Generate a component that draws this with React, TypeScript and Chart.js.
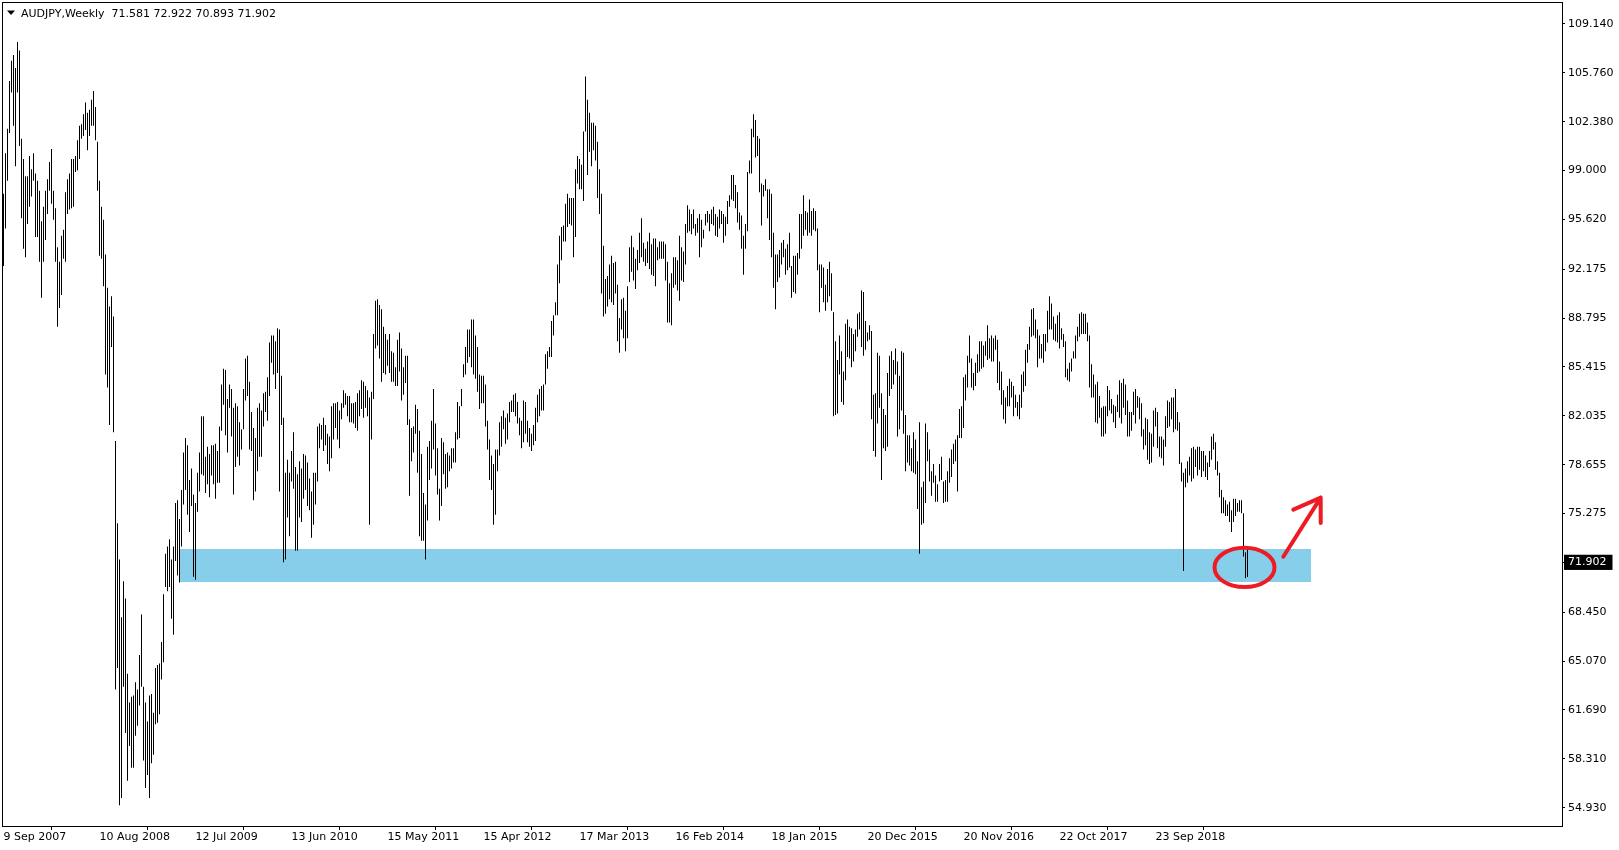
import React, { useEffect, useRef } from "react";
import { Chart, registerables } from "chart.js";

Chart.register(...registerables);

// ---------- data ----------
const SYMBOL_TITLE = "AUDJPY,Weekly";
const LAST_OHLC = [71.581, 72.922, 70.893, 71.902];
const CURRENT_PRICE = 71.902;

// weekly highs, starting with the week of 9 Sep 2007
const HIGH = [
  97.4, 100.2, 101.9, 105.2, 106.6, 107.0, 106.1, 107.9, 107.3, 101.2,
  99.8, 98.6, 98.6, 100.0, 99.1, 100.2, 98.8, 98.3, 97.6, 95.5,
  96.5, 97.6, 98.4, 99.6, 100.5, 97.6, 96.4, 93.7, 92.7, 94.5,
  94.9, 97.5, 98.4, 98.8, 99.8, 99.8, 100.0, 101.1, 102.1, 102.2,
  102.9, 103.7, 103.0, 103.2, 103.9, 104.5, 103.4, 101.0, 98.3, 96.5,
  95.6, 93.2, 90.9, 89.6, 90.3, 88.9, 80.3, 74.6, 72.1, 68.1,
  70.6, 69.4, 64.2, 62.2, 62.6, 62.7, 63.6, 63.1, 65.5, 68.3,
  63.3, 62.2, 60.9, 62.7, 62.8, 61.5, 64.6, 64.8, 64.9, 66.4,
  69.7, 72.5, 73.0, 73.5, 72.1, 73.0, 76.0, 76.2, 74.9, 76.9,
  79.5, 80.5, 80.0, 77.6, 78.4, 76.6, 76.0, 78.1, 79.5, 82.0,
  82.0, 79.2, 79.9, 79.4, 80.0, 80.0, 80.1, 79.6, 81.3, 84.2,
  85.3, 85.2, 83.2, 84.2, 83.9, 82.6, 82.9, 82.7, 81.6, 81.1,
  83.9, 86.0, 86.2, 84.4, 82.3, 81.2, 80.5, 82.6, 82.9, 82.4,
  83.6, 83.7, 84.7, 87.1, 87.6, 87.6, 87.2, 88.1, 88.0, 84.8,
  81.9, 78.1, 79.0, 78.1, 79.6, 80.9, 78.5, 78.0, 78.9, 78.4,
  79.4, 79.3, 78.8, 77.7, 76.8, 78.1, 78.1, 81.3, 81.5, 81.4,
  81.9, 81.4, 80.8, 80.6, 82.7, 82.9, 82.9, 83.0, 82.4, 82.9,
  83.8, 83.6, 83.4, 83.4, 82.9, 82.9, 83.0, 83.6, 83.8, 84.5,
  84.4, 84.1, 83.8, 83.3, 83.7, 87.7, 90.0, 90.1, 89.7, 89.4,
  88.2, 87.7, 87.3, 87.7, 86.5, 86.4, 85.4, 87.3, 87.8, 86.7,
  85.4, 86.2, 86.2, 81.8, 81.2, 81.3, 82.8, 82.5, 81.0, 79.4,
  76.7, 75.9, 79.9, 80.3, 81.7, 83.9, 81.5, 79.8, 77.0, 80.5,
  80.2, 79.4, 79.5, 79.3, 79.8, 79.8, 80.9, 83.0, 82.7, 83.9,
  85.6, 86.8, 88.0, 88.0, 88.7, 88.7, 87.6, 86.8, 84.9, 84.8,
  84.8, 84.2, 81.7, 80.4, 79.3, 78.7, 79.7, 79.7, 81.6, 82.0,
  82.4, 81.9, 82.2, 83.0, 83.1, 83.5, 83.6, 83.0, 81.9, 81.7,
  83.1, 83.0, 81.7, 81.2, 80.8, 81.4, 82.6, 83.5, 83.9, 84.1,
  84.2, 86.3, 86.5, 86.8, 88.6, 89.0, 89.9, 92.5, 94.5, 95.1,
  95.2, 96.7, 97.4, 97.1, 97.1, 97.1, 99.1, 100.0, 99.8, 99.4,
  101.7, 105.5, 103.9, 103.0, 102.3, 102.3, 102.1, 101.0, 99.1, 97.4,
  93.8, 91.5, 91.7, 92.5, 93.1, 92.6, 92.7, 91.1, 88.8, 90.1,
  90.2, 89.3, 91.0, 93.7, 94.5, 93.7, 92.9, 93.5, 94.7, 95.7,
  94.0, 93.6, 94.1, 94.7, 93.9, 94.3, 94.3, 93.7, 94.1, 94.1,
  94.1, 93.9, 92.7, 91.2, 91.9, 93.0, 93.0, 92.8, 94.5, 93.7,
  93.4, 95.3, 96.6, 96.3, 96.0, 96.3, 95.3, 95.7, 96.0, 95.6,
  94.9, 96.0, 96.2, 96.0, 96.3, 96.5, 96.0, 95.8, 96.3, 96.2,
  96.0, 95.8, 96.9, 97.3, 98.7, 98.7, 98.0, 97.5, 96.1, 95.9,
  94.5, 95.3, 98.9, 99.7, 101.9, 102.9, 102.5, 101.4, 101.2, 98.1,
  98.0, 98.4, 97.7, 97.7, 97.4, 94.7, 93.2, 93.2, 93.5, 94.0,
  94.2, 93.6, 93.9, 94.7, 92.4, 93.1, 93.1, 93.3, 96.0, 96.0,
  97.3, 96.2, 96.1, 97.0, 96.2, 96.4, 96.2, 95.0, 92.5, 92.5,
  92.3, 91.1, 92.2, 92.7, 91.9, 89.2, 87.2, 85.9, 87.6, 86.5,
  85.1, 88.4, 88.7, 88.2, 88.1, 87.7, 88.0, 89.1, 89.2, 90.7,
  90.6, 88.6, 87.8, 88.3, 87.9, 83.5, 83.6, 86.4, 86.2, 83.6,
  82.5, 82.1, 85.0, 86.2, 86.5, 85.9, 86.7, 85.8, 84.8, 86.5,
  86.4, 82.1, 80.7, 80.7, 79.8, 80.9, 80.4, 78.9, 81.6, 77.1,
  77.5, 81.5, 80.9, 79.7, 78.2, 78.7, 77.9, 77.3, 78.7, 79.2,
  77.5, 77.6, 78.2, 79.1, 79.7, 80.1, 80.4, 80.7, 82.5, 82.7,
  84.7, 84.9, 86.2, 87.6, 86.0, 85.0, 85.7, 86.3, 87.2, 87.2,
  86.9, 87.2, 88.3, 87.4, 87.6, 87.4, 87.6, 87.3, 85.8, 85.1,
  83.8, 83.3, 84.1, 84.6, 84.4, 84.1, 83.5, 83.0, 83.5, 84.9,
  85.1, 86.6, 87.0, 88.2, 89.4, 89.5, 88.7, 88.0, 87.6, 87.0,
  87.7, 87.7, 89.3, 90.3, 89.8, 88.9, 88.4, 89.0, 89.2, 88.1,
  87.7, 87.2, 85.3, 85.7, 86.0, 86.5, 87.6, 88.2, 89.1, 89.2,
  89.1, 89.1, 88.5, 87.6, 85.6, 84.9, 84.2, 84.4, 83.4, 82.6,
  82.7, 82.7, 84.1, 83.8, 83.2, 82.8, 82.7, 83.5, 84.5, 84.3,
  84.6, 84.2, 83.1, 82.3, 82.3, 83.7, 83.9, 83.4, 83.3, 82.9,
  81.1, 81.9, 81.8, 80.9, 80.8, 82.4, 82.6, 82.3, 80.6, 80.6,
  80.4, 82.0, 83.1, 83.0, 83.3, 83.3, 83.9, 82.3, 81.6, 78.8,
  78.1, 78.4, 78.9, 79.2, 79.8, 79.9, 79.7, 79.9, 79.9, 79.6,
  79.6, 79.3, 78.8, 79.6, 80.6, 80.8, 80.2, 78.9, 78.1, 76.9,
  76.4, 76.2, 75.9, 76.1, 75.5, 76.3, 76.3, 76.0, 76.2, 76.2,
  75.3, 72.6, 72.922,
];

// weekly lows, same weeks
const LOW = [
  92.4, 95.0, 98.3, 101.6, 104.4, 102.1, 99.3, 104.4, 100.7, 95.7,
  93.6, 93.0, 95.3, 96.5, 97.2, 98.3, 94.4, 94.4, 92.7, 90.2,
  92.7, 94.2, 96.0, 97.6, 96.7, 95.6, 92.7, 88.2, 89.5, 90.4,
  92.9, 92.7, 96.0, 96.3, 96.4, 96.5, 98.9, 99.0, 99.8, 101.2,
  101.4, 101.8, 100.4, 101.4, 102.1, 102.1, 101.1, 97.6, 93.1, 92.9,
  91.0, 84.9, 84.0, 81.4, 86.8, 80.9, 63.1, 64.6, 55.1, 55.6,
  63.3, 60.1, 56.8, 59.2, 57.7, 57.7, 59.9, 60.6, 62.0, 63.3,
  58.2, 56.3, 57.2, 55.6, 58.0, 58.6, 60.7, 60.8, 61.4, 63.8,
  65.0, 70.2, 69.9, 70.2, 68.0, 66.9, 72.0, 71.0, 70.5, 73.0,
  75.9, 76.9, 75.2, 74.0, 75.8, 70.9, 70.7, 75.4, 76.8, 78.0,
  77.9, 76.7, 77.3, 76.4, 77.9, 77.3, 76.3, 77.4, 77.4, 81.0,
  82.8, 80.7, 79.5, 82.6, 80.6, 76.6, 78.5, 79.2, 78.6, 79.7,
  81.1, 83.1, 83.4, 79.7, 79.6, 76.2, 76.8, 78.2, 79.2, 79.2,
  81.3, 82.3, 81.7, 83.4, 85.7, 84.9, 83.9, 85.0, 76.8, 81.4,
  71.9, 72.1, 75.0, 73.7, 77.5, 77.0, 72.7, 72.7, 75.0, 74.7,
  76.3, 76.9, 75.8, 75.5, 73.6, 74.5, 75.9, 77.5, 79.8, 80.4,
  79.6, 80.0, 78.7, 78.2, 79.1, 80.4, 81.2, 80.4, 79.8, 81.8,
  82.6, 82.8, 82.0, 81.6, 81.6, 81.5, 81.2, 81.0, 82.0, 82.5,
  81.9, 82.6, 82.0, 74.5, 80.4, 83.2, 86.7, 86.9, 86.0, 84.4,
  85.0, 84.9, 85.5, 85.0, 84.4, 84.4, 84.1, 84.1, 85.1, 83.1,
  83.5, 84.3, 81.4, 76.5, 78.9, 79.5, 80.8, 78.1, 73.7, 73.4,
  73.4, 72.1, 74.8, 77.6, 78.4, 79.7, 77.9, 76.6, 74.8, 75.8,
  78.0, 77.0, 77.1, 78.2, 78.4, 78.8, 78.8, 80.4, 80.5, 82.7,
  84.7, 84.9, 85.7, 86.1, 85.4, 84.9, 84.6, 83.7, 82.5, 82.9,
  82.9, 81.3, 79.7, 77.6, 76.9, 74.5, 75.2, 78.2, 79.3, 79.9,
  81.1, 80.1, 80.4, 81.6, 82.3, 82.3, 82.0, 81.5, 80.7, 79.8,
  80.2, 80.8, 80.2, 79.9, 79.6, 80.0, 80.3, 81.6, 82.0, 82.4,
  82.4, 84.2, 85.3, 86.1, 86.1, 87.6, 89.0, 89.0, 91.2, 92.8,
  94.1, 94.1, 95.1, 95.3, 95.2, 93.0, 94.4, 98.1, 97.7, 97.7,
  96.9, 101.7, 98.7, 100.3, 99.3, 100.4, 99.7, 97.1, 96.0, 90.5,
  88.9, 89.1, 89.6, 90.1, 89.9, 89.7, 90.5, 87.2, 86.4, 88.0,
  87.4, 86.5, 87.4, 91.3, 92.0, 91.4, 90.8, 92.1, 92.6, 93.0,
  92.7, 92.4, 92.6, 92.2, 91.8, 91.7, 91.0, 92.8, 92.9, 92.9,
  92.9, 91.4, 88.5, 88.5, 88.3, 90.9, 91.1, 90.7, 90.0, 91.4,
  91.3, 92.5, 94.7, 94.8, 94.6, 95.0, 94.5, 94.7, 93.0, 93.7,
  94.3, 95.2, 95.4, 94.8, 95.3, 95.2, 94.5, 94.4, 95.0, 95.3,
  94.0, 94.5, 95.3, 96.5, 97.0, 96.9, 96.4, 95.4, 94.9, 93.6,
  91.8, 93.6, 94.8, 98.8, 98.8, 101.3, 99.9, 100.0, 97.5, 95.2,
  97.2, 97.6, 95.7, 94.2, 93.0, 90.9, 89.4, 91.3, 91.6, 92.5,
  93.0, 91.8, 92.1, 92.3, 90.2, 90.6, 90.5, 91.8, 92.9, 93.6,
  94.5, 94.9, 94.5, 94.7, 94.5, 94.9, 94.8, 92.1, 89.2, 90.9,
  89.9, 89.3, 89.9, 90.3, 89.3, 82.0, 82.1, 82.2, 84.9, 83.0,
  82.8, 84.5, 86.1, 86.0, 85.4, 85.8, 86.5, 87.5, 88.0, 86.8,
  86.2, 86.6, 87.2, 87.3, 81.8, 79.6, 79.2, 81.5, 82.6, 77.6,
  79.8, 79.6, 79.9, 83.4, 83.9, 84.2, 84.9, 80.6, 81.1, 82.4,
  80.8, 78.2, 78.8, 78.6, 78.2, 78.1, 78.0, 75.6, 72.5, 74.5,
  74.6, 76.0, 78.9, 77.5, 76.5, 77.4, 76.1, 76.1, 77.5, 77.6,
  76.0, 76.1, 76.1, 77.4, 77.8, 78.7, 78.9, 76.8, 80.5, 80.5,
  81.2, 83.1, 84.0, 85.7, 84.0, 83.8, 84.1, 85.0, 85.1, 85.3,
  85.4, 86.2, 85.9, 86.0, 85.8, 85.8, 86.6, 84.3, 83.8, 82.8,
  81.8, 81.5, 82.7, 82.7, 83.3, 82.0, 82.6, 82.0, 81.8, 82.6,
  83.7, 84.1, 85.7, 86.6, 87.5, 87.6, 87.4, 85.4, 86.0, 86.0,
  85.7, 86.5, 87.1, 88.0, 88.0, 87.3, 87.2, 87.1, 86.7, 87.3,
  86.8, 84.7, 84.5, 84.4, 85.1, 86.0, 86.0, 87.2, 87.5, 87.7,
  87.7, 87.7, 87.2, 84.0, 83.3, 83.3, 81.6, 81.5, 81.9, 80.6,
  80.6, 80.8, 82.0, 82.4, 82.2, 81.6, 81.2, 82.3, 81.9, 81.5,
  82.6, 82.1, 80.6, 80.6, 81.0, 82.1, 81.5, 82.6, 81.8, 80.6,
  79.7, 80.0, 79.0, 78.7, 78.8, 79.9, 81.3, 79.8, 79.2, 79.1,
  78.6, 79.9, 81.2, 81.3, 81.8, 80.9, 81.1, 81.0, 78.7, 77.5,
  71.3, 77.1, 77.4, 77.9, 77.5, 77.7, 78.5, 77.9, 78.3, 77.8,
  78.2, 77.8, 77.6, 78.5, 79.0, 79.7, 78.3, 77.9, 76.4, 75.3,
  75.3, 75.1, 75.1, 74.7, 74.0, 74.7, 75.1, 75.4, 75.4, 75.3,
  72.3, 70.8, 70.893,
];

const DATE_WEEKS = [0, 48, 96, 144, 192, 240, 288, 336, 384, 432, 480, 528, 576];
const DATE_LABELS = [
  "9 Sep 2007", "10 Aug 2008", "12 Jul 2009", "13 Jun 2010", "15 May 2011",
  "15 Apr 2012", "17 Mar 2013", "16 Feb 2014", "18 Jan 2015", "20 Dec 2015",
  "20 Nov 2016", "22 Oct 2017", "23 Sep 2018",
];

const PRICE_TICKS = [
  109.14, 105.76, 102.38, 99.0, 95.62, 92.175, 88.795, 85.415, 82.035,
  78.655, 75.275, 71.902, 68.45, 65.07, 61.69, 58.31, 54.93,
];
const PRICE_LABELS = [
  "109.140", "105.760", "102.380", "99.000", "95.620", "92.175", "88.795",
  "85.415", "82.035", "78.655", "75.275", "71.902", "68.450", "65.070",
  "61.690", "58.310", "54.930",
];

// drawing annotations, in chart units (week index / price)
const ZONE_WEEKS = [88.0, 653.8];
const ZONE_PRICES = [70.56, 72.83];
const CIRCLE_CENTER = [620.5, 71.55];
const CIRCLE_RADII = [15.0, 1.36];
const ARROW_SHAFT = [[639.9, 72.29], [658.6, 76.38]];
const ARROW_HEAD = [[644.9, 75.55], [658.6, 74.62]];

const FONT = "'DejaVu Sans', Verdana, sans-serif";
const RED = "#ed1c24";

const overlayPlugin = {
  id: "overlay",
  beforeDatasetsDraw(chart: any) {
    const { ctx, chartArea, scales } = chart;
    const x = scales.x;
    const y = scales.y;
    ctx.save();
    ctx.beginPath();
    ctx.rect(chartArea.left, chartArea.top, chartArea.right - chartArea.left, chartArea.bottom - chartArea.top);
    ctx.clip();
    const x0 = Math.round(x.getPixelForValue(ZONE_WEEKS[0]));
    const x1 = Math.round(x.getPixelForValue(ZONE_WEEKS[1]));
    const y0 = Math.round(y.getPixelForValue(ZONE_PRICES[1]));
    const y1 = Math.round(y.getPixelForValue(ZONE_PRICES[0]));
    ctx.fillStyle = "#87ceeb";
    ctx.fillRect(x0, y0, x1 - x0, y1 - y0);
    ctx.restore();
  },
  afterDatasetsDraw(chart: any) {
    const { ctx, scales } = chart;
    const x = scales.x;
    const y = scales.y;
    ctx.save();
    // circle
    const cx = x.getPixelForValue(CIRCLE_CENTER[0]);
    const cy = y.getPixelForValue(CIRCLE_CENTER[1]);
    const rx = Math.abs(x.getPixelForValue(CIRCLE_CENTER[0] + CIRCLE_RADII[0]) - cx);
    const ry = Math.abs(y.getPixelForValue(CIRCLE_CENTER[1] + CIRCLE_RADII[1]) - cy);
    ctx.strokeStyle = RED;
    ctx.lineWidth = 4;
    ctx.beginPath();
    ctx.ellipse(cx, cy, rx, ry, 0, 0, Math.PI * 2);
    ctx.stroke();
    // arrow
    const p = (pt: number[]) => [x.getPixelForValue(pt[0]), y.getPixelForValue(pt[1])];
    const a = p(ARROW_SHAFT[0]);
    const b = p(ARROW_SHAFT[1]);
    const h1 = p(ARROW_HEAD[0]);
    const h2 = p(ARROW_HEAD[1]);
    ctx.lineWidth = 4;
    ctx.lineCap = "round";
    ctx.lineJoin = "round";
    ctx.beginPath();
    ctx.moveTo(a[0], a[1]);
    ctx.lineTo(b[0], b[1]);
    ctx.moveTo(h1[0], h1[1]);
    ctx.lineTo(b[0], b[1]);
    ctx.lineTo(h2[0], h2[1]);
    ctx.stroke();
    ctx.restore();
  },
  afterDraw(chart: any) {
    const { ctx, chartArea } = chart;
    ctx.save();
    ctx.strokeStyle = "#000";
    ctx.lineWidth = 1;
    ctx.strokeRect(chartArea.left + 0.5, chartArea.top + 0.5, chartArea.right - chartArea.left, chartArea.bottom - chartArea.top);
    // header
    ctx.fillStyle = "#000";
    ctx.beginPath();
    ctx.moveTo(7, 10.5);
    ctx.lineTo(15, 10.5);
    ctx.lineTo(11, 15);
    ctx.closePath();
    ctx.fill();
    ctx.font = `11px ${FONT}`;
    ctx.textBaseline = "alphabetic";
    ctx.textAlign = "left";
    const text = `${SYMBOL_TITLE}  ${LAST_OHLC.map((v) => v.toFixed(3)).join(" ")}`;
    ctx.fillText(text, 21, 16.5);
    ctx.restore();
  },
};

const noPadding = (axis: any) => {
  axis.paddingTop = 0;
  axis.paddingBottom = 0;
  axis.paddingLeft = 0;
  axis.paddingRight = 0;
};

export default function App() {
  const canvasRef = useRef<HTMLCanvasElement | null>(null);

  useEffect(() => {
    document.body.style.margin = "0";
    const canvas = canvasRef.current;
    if (!canvas) return;
    const bars = HIGH.map((h, i) => ({ x: i, y: [LOW[i], h] }));
    const currentIndex = PRICE_TICKS.indexOf(CURRENT_PRICE);

    const chart = new Chart(canvas, {
      type: "bar",
      data: {
        datasets: [
          {
            data: bars as any,
            backgroundColor: "#000",
            borderWidth: 0,
            barThickness: 1,
            grouped: false,
            inflateAmount: 0,
          } as any,
        ],
      },
      options: {
        animation: false,
        responsive: false,
        devicePixelRatio: 1,
        events: [],
        layout: { padding: { left: 2, top: 2, right: 0, bottom: 0 } },
        plugins: {
          legend: { display: false },
          tooltip: { enabled: false },
          title: { display: false },
        },
        scales: {
          x: {
            type: "linear",
            position: "bottom",
            min: -0.75,
            max: 779.25,
            offset: false,
            afterBuildTicks: (axis: any) => {
              axis.ticks = DATE_WEEKS.map((v) => ({ value: v }));
            },
            afterFit: (axis: any) => {
              axis.height = 24;
              noPadding(axis);
            },
            ticks: {
              autoSkip: false,
              maxRotation: 0,
              minRotation: 0,
              align: "start",
              labelOffset: 0,
              padding: 1,
              color: "#000",
              font: { family: FONT, size: 11 },
              callback: (_v: any, i: number) => DATE_LABELS[i],
            },
            grid: {
              drawOnChartArea: false,
              drawTicks: true,
              tickLength: 4,
              tickColor: "#000",
              color: "#000",
            },
            border: { display: false },
          },
          y: {
            type: "linear",
            position: "right",
            min: 53.665,
            max: 110.66,
            afterBuildTicks: (axis: any) => {
              axis.ticks = PRICE_TICKS.map((v) => ({ value: v }));
            },
            afterFit: (axis: any) => {
              axis.width = 57;
              noPadding(axis);
            },
            ticks: {
              autoSkip: false,
              padding: 3,
              font: { family: FONT, size: 11 },
              color: (c: any) => (c.index === currentIndex ? "#fff" : "#000"),
              showLabelBackdrop: (c: any) => c.index === currentIndex,
              backdropColor: "#000",
              backdropPadding: { top: 1, bottom: 1, left: 4, right: 6 },
              callback: (_v: any, i: number) => PRICE_LABELS[i],
            },
            grid: {
              drawOnChartArea: false,
              drawTicks: true,
              tickLength: 3,
              tickColor: "#000",
              color: "#000",
            },
            border: { display: false },
          },
        },
      } as any,
      plugins: [overlayPlugin],
    });
    return () => chart.destroy();
  }, []);

  return (
    <div style={{ width: 1619, height: 850, background: "#fff" }}>
      <canvas ref={canvasRef} width={1619} height={850} style={{ display: "block" }} />
    </div>
  );
}
